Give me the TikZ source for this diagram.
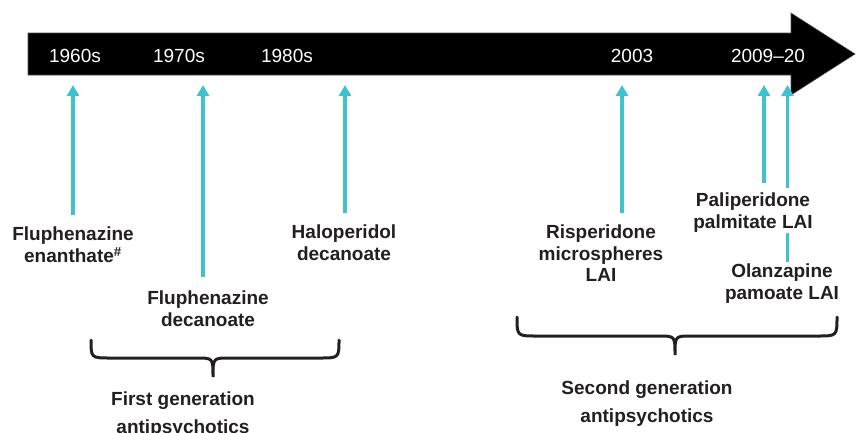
\documentclass[tikz,border=0pt]{standalone}
\usepackage{fontspec}
\setmainfont{Liberation Sans}
\usetikzlibrary{arrows.meta}
\definecolor{lai}{RGB}{64,193,206}
\definecolor{ink}{RGB}{35,31,32}

\begin{document}
\begin{tikzpicture}[x=1pt,y=1pt]
\tikzstyle{every node}+=[inner sep=0pt]
\tikzstyle{year}=[text=white,font=\fontsize{19}{22}\selectfont,anchor=base]
\tikzstyle{drug}=[text=ink,font=\fontsize{19}{21.5}\selectfont\bfseries,align=center,anchor=north]
\tikzstyle{group}=[text=ink,font=\fontsize{19}{27.5}\selectfont\bfseries,align=center,anchor=north]
\tikzstyle{pointer}=[draw=lai,line width=3.5pt,-{Triangle[width=12pt,length=11pt]}]
\tikzstyle{stem}=[draw=lai,line width=3.5pt]
\tikzstyle{curly}=[draw=ink,line width=3pt,line cap=round]
\useasboundingbox (0,0) rectangle (856,-432);
% time line
\fill [black,draw=black!70,line width=0.6pt] (28,-33) -- (791,-33) -- (791,-13) -- (855,-54) -- (791,-95) -- (791,-75) -- (28,-75) -- cycle;
\node [year] (y1960) at (75,-62) {1960s};
\node [year] (y1970) at (179,-62) {1970s};
\node [year] (y1980) at (287,-62) {1980s};
\node [year] (y2003) at (632,-62) {2003};
\node [year] (y2009) at (768,-62) {2009--20};
\coordinate (tip) at (0,-85);
% first generation
\node [drug] (fluen) at (73,-227) {Fluphenazine\\enanthate\textsuperscript{\#}};
\node [drug] (fludec) at (208,-291) {Fluphenazine\\decanoate};
\node [drug] (halo) at (344,-225) {Haloperidol\\decanoate};
\draw [pointer] ([yshift=12pt]fluen.north) -- (fluen.north |- tip);
\coordinate (fludec0) at ([xshift=-5pt,yshift=14pt]fludec.north);
\draw [pointer] (fludec0) -- (fludec0 |- tip);
\coordinate (halo0) at ([xshift=1pt,yshift=12pt]halo.north);
\draw [pointer] (halo0) -- (halo0 |- tip);
% second generation
\node [drug] (risp) at (601,-225) {Risperidone\\microspheres\\LAI};
\node [drug] (pali) at (753,-193) {Paliperidone\\palmitate LAI};
\node [drug] (olan) at (782,-264) {Olanzapine\\pamoate LAI};
\coordinate (risp0) at ([xshift=21pt,yshift=12pt]risp.north);
\draw [pointer] (risp0) -- (risp0 |- tip);
\coordinate (pali0) at ([xshift=11pt,yshift=10pt]pali.north);
\draw [pointer] (pali0) -- (pali0 |- tip);
\coordinate (olan0) at ([xshift=5.5pt,yshift=2pt]olan.north);
\draw [stem] (olan0) -- (olan0 |- pali.south);
\path (olan0 |- pali.north) ++(0,5) coordinate (olan1);
\draw [pointer] (olan1) -- (olan1 |- tip);
% braces
\draw [curly] (91,-340) .. controls (91,-358) .. (111,-358) -- (197,-358) .. controls (213,-358) .. (213,-377) .. controls (213,-358) .. (229,-358) -- (319,-358) .. controls (339,-358) .. (339,-340);
\draw [curly] (517,-317) .. controls (517,-336) .. (537,-336) -- (659,-336) .. controls (675,-336) .. (675,-355) .. controls (675,-336) .. (691,-336) -- (817,-336) .. controls (837,-336) .. (837,-317);
\node [group] (gen1) at (183,-392) {First generation\\antipsychotics};
\node [group] (gen2) at (647,-381) {Second generation\\antipsychotics};
\end{tikzpicture}
\end{document}
